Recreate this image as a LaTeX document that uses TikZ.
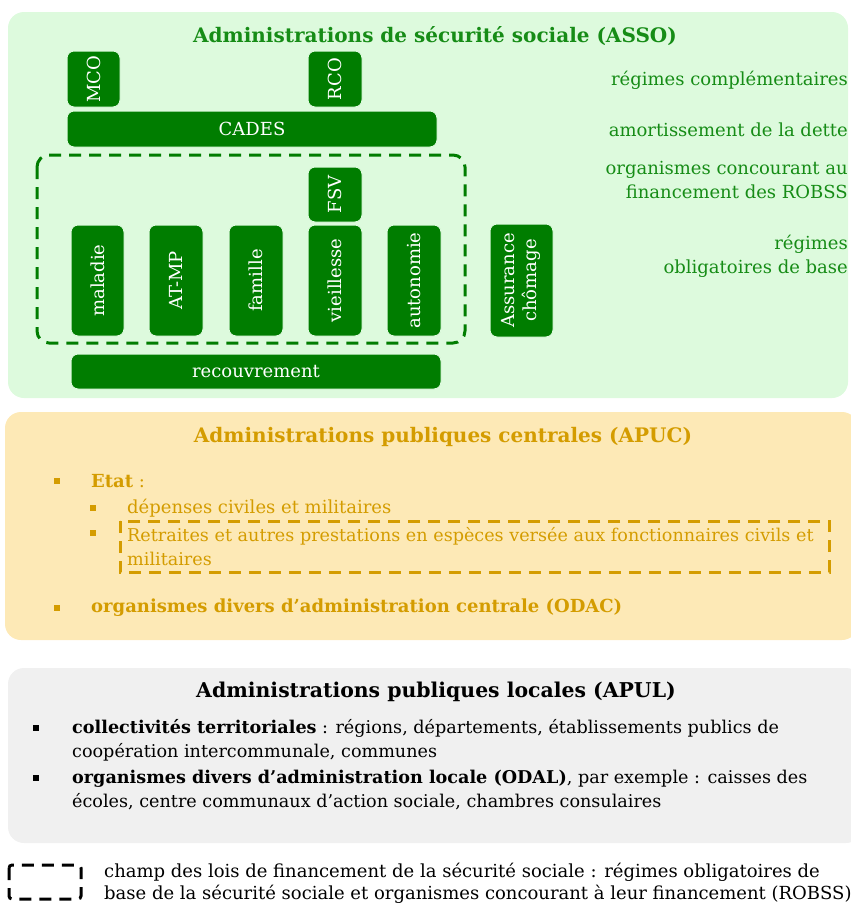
\documentclass[tikz,border=0pt]{standalone}
\usepackage{fontspec}
\setmainfont{DejaVu Serif}
\usepackage{graphicx}
\usetikzlibrary{positioning}
\definecolor{assobg}{RGB}{221,250,221}
\definecolor{assodark}{RGB}{0,125,0}
\definecolor{assotxt}{RGB}{22,140,22}
\definecolor{apucbg}{RGB}{253,233,182}
\definecolor{apuctxt}{RGB}{212,156,0}
\definecolor{apulbg}{RGB}{240,240,240}
\tikzset{
  panel/.style={rounded corners=16pt},
  gbox/.style={fill=assodark, draw=assobg, line width=1pt, rounded corners=7pt,
    text=white, inner sep=0pt, font=\fontsize{18}{20}\selectfont},
  gnote/.style={text=assotxt, align=right, anchor=east, inner sep=0pt,
    font=\fontsize{18}{24}\selectfont},
  ptitle/.style={inner sep=0pt, font=\fontsize{20}{24}\selectfont\bfseries},
  item/.style={anchor=west, align=left, inner sep=0pt,
    font=\fontsize{18}{24}\selectfont},
  smallitem/.style={item, font=\fontsize{17.6}{24}\selectfont},
  bullet/.style={fill, minimum size=5.5pt, inner sep=0pt},
  scopeline/.style={line width=3pt, dash pattern=on 12pt off 8pt, rounded corners=12pt}
}
\begin{document}
\begin{tikzpicture}[x=1pt,y=-1pt]
\useasboundingbox (0,0) rectangle (851,905);
% ASSO
\fill[assobg, panel] (8,12) rectangle (848,398);
\node[ptitle, text=assotxt] (asso) at (435,36) {Administrations de sécurité sociale (ASSO)};
\node[gbox, minimum width=53pt, minimum height=56pt] (mco) at (93.5,79) {\rotatebox{90}{MCO}};
\node[gbox, minimum width=54pt, minimum height=56pt] (rco) at (335,79) {\rotatebox{90}{RCO}};
\node[gbox, minimum width=370pt, minimum height=36pt] (cades) at (252,129) {CADES};
\draw[assodark, scopeline] (37,155) rectangle (465,343);
\node[gbox, minimum width=54pt, minimum height=55pt] (fsv) at (335,194.5) {\rotatebox{90}{FSV}};
\node[gbox, minimum width=53pt, minimum height=111pt] (maladie) at (97.5,280.5) {\rotatebox{90}{maladie}};
\node[gbox, minimum width=54pt, minimum height=111pt] (atmp) at (176,280.5) {\rotatebox{90}{AT-MP}};
\node[gbox, minimum width=54pt, minimum height=111pt] (famille) at (256,280.5) {\rotatebox{90}{famille}};
\node[gbox, minimum width=54pt, minimum height=111pt] (vieillesse) at (335,280.5) {\rotatebox{90}{vieillesse}};
\node[gbox, minimum width=54pt, minimum height=111pt] (autonomie) at (414,280.5) {\rotatebox{90}{autonomie}};
\node[gbox, minimum width=63pt, minimum height=113pt] (chomage) at (521.5,280.5)
  {\rotatebox{90}{\begin{tabular}{@{}c@{}}Assurance\\[1pt]chômage\end{tabular}}};
\node[gbox, minimum width=370pt, minimum height=35pt] (recouvrement) at (256,371.5) {recouvrement};
\node[gnote] (complementaires) at (848,80) {régimes complémentaires};
\node[gnote] (dette) at (848,130) {amortissement de la dette};
\node[gnote] (concourant) at (848,180) {organismes concourant au\\financement des ROBSS};
\node[gnote] (base) at (848,256) {régimes\\obligatoires de base};
% APUC
\fill[apucbg, panel] (5,412) rectangle (858,640);
\node[ptitle, text=apuctxt] (apuc) at (443,437) {Administrations publiques centrales (APUC)};
\node[bullet, apuctxt] (b1) at (57,481) {};
\node[item, text=apuctxt] (etat) at (91,481) {\textbf{Etat} :};
\node[bullet, apuctxt] (b2) at (93,508) {};
\node[item, text=apuctxt] (depenses) at (127,508) {dépenses civiles et militaires};
\node[bullet, apuctxt] (b3) at (93,533) {};
\node[smallitem, text=apuctxt] (retraites) at (127,547)
  {Retraites et autres prestations en espèces versée aux fonctionnaires civils et\\militaires};
\draw[apuctxt, scopeline, rounded corners=0pt] (120,521) rectangle (829,572);
\node[bullet, apuctxt] (b4) at (57,608) {};
\node[item, text=apuctxt] (odac) at (91,608) {\textbf{organismes divers d’administration centrale (ODAC)}};
% APUL
\fill[apulbg, panel] (8,668) rectangle (862,843);
\node[ptitle, font=\fontsize{20.4}{24}\selectfont\bfseries] (apul) at (436,692) {Administrations publiques locales (APUL)};
\node[bullet] (b5) at (36,728) {};
\node[smallitem] (collectivites) at (72,740)
  {\textbf{collectivités territoriales} : régions, départements, établissements publics de\\coopération intercommunale, communes};
\node[bullet] (b6) at (36,778) {};
\node[smallitem] (odal) at (72,790)
  {\textbf{organismes divers d’administration locale (ODAL)}, par exemple : caisses des\\écoles, centre communaux d’action sociale, chambres consulaires};
% legende
\draw[scopeline, rounded corners=3pt] (9,865) rectangle (81,899);
\node[item, font=\fontsize{18}{22}\selectfont] (champ) at (104,883)
  {champ des lois de financement de la sécurité sociale : régimes obligatoires de\\base de la sécurité sociale et organismes concourant à leur financement (ROBSS)};
\end{tikzpicture}
\end{document}
